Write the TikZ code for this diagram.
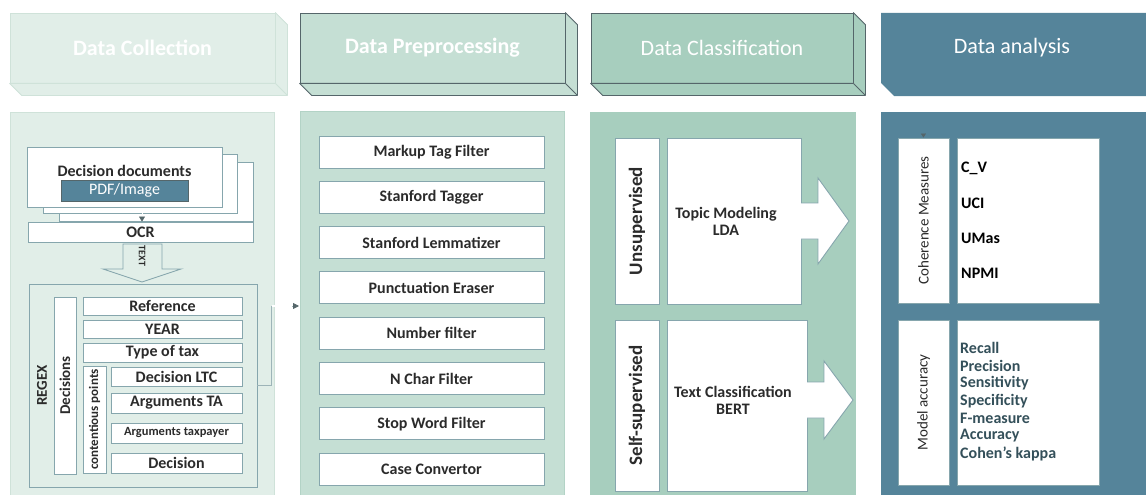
\documentclass[tikz,border=0pt]{standalone}
\usepackage{fontspec}
\setmainfont{Carlito}
\usetikzlibrary{arrows.meta,calc}
\definecolor{cA}{HTML}{E1EEE8}
\definecolor{cAb}{HTML}{CFE2D9}
\definecolor{cB}{HTML}{C5DFD4}
\definecolor{cBb}{HTML}{B3D3C6}
\definecolor{cC}{HTML}{A7CEBE}
\definecolor{cD}{HTML}{55849A}
\definecolor{edgec}{HTML}{55666A}
\definecolor{bordc}{HTML}{86A6AD}
\definecolor{connc}{HTML}{9DB4B8}
\definecolor{txtc}{HTML}{2B2B2B}
\definecolor{listc}{HTML}{34505A}
\newcommand{\myfs}[1]{\fontsize{#1}{#1}\selectfont}
\begin{document}
\begin{tikzpicture}[x=1pt,y=-1pt,
  hdr/.style={rectangle, inner sep=0pt, line width=0.8pt},
  face/.style={line width=0.8pt, line join=round},
  panel/.style={rectangle, inner sep=0pt, line width=0.8pt},
  inbox/.style={rectangle, draw=bordc, fill=white, line width=0.9pt, inner sep=0pt, text=txtc, font=\bfseries\myfs{16}},
  vlabel/.style={inbox, rotate=90},
  blockarrow/.style={draw=bordc, fill=white, line width=0.9pt, line join=miter},
  conn/.style={draw=connc, line width=0.8pt, -{Triangle[length=6pt,width=6pt,color=edgec]}},
  itemtxt/.style={anchor=west, inner sep=0pt, font=\bfseries\myfs{16}},
]
\useasboundingbox (0,0) rectangle (1146,495);

% ---------- headers ----------
\node[hdr, fill=cA, draw=cAb, minimum width=265, minimum height=70, text=white, font=\bfseries\myfs{22}] (hd1) at (142.5,48) {Data Collection};
\draw[face, fill=cA, draw=cAb] (hd1.north east) -- ++(12,12) -- ($(hd1.south east)+(12,12)$) -- ($(hd1.south west)+(12,12)$) -- (hd1.south west) -- (hd1.south east) -- cycle;
\draw[face, draw=cAb] (hd1.south east) -- ++(12,12);

\node[hdr, fill=cB, draw=edgec, minimum width=265, minimum height=70, text=white, font=\bfseries\myfs{22}] (hd2) at (432.5,48) {Data Preprocessing};
\draw[face, fill=cB, draw=edgec] (hd2.north east) -- ++(12,12) -- ($(hd2.south east)+(12,12)$) -- ($(hd2.south west)+(12,12)$) -- (hd2.south west) -- (hd2.south east) -- cycle;
\draw[face, draw=edgec] (hd2.south east) -- ++(12,12);

\node[hdr, fill=cC, draw=edgec, minimum width=262, minimum height=70, text=white, font=\myfs{22}] (hd3) at (722,48) {Data Classification};
\draw[face, fill=cC, draw=edgec] (hd3.north east) -- ++(12,12) -- ($(hd3.south east)+(12,12)$) -- ($(hd3.south west)+(12,12)$) -- (hd3.south west) -- (hd3.south east) -- cycle;
\draw[face, draw=edgec] (hd3.south east) -- ++(12,12);

\fill[cD] (881,13) -- (1146,13) -- (1146,96) -- (894,96) -- (881,83) -- cycle;
\node[text=white, font=\myfs{22}] (hd4) at (1012,48) {Data analysis};

% ---------- panels ----------
\node[panel, fill=cA, draw=cAb, minimum width=264, minimum height=383] (p1) at (142,303.5) {};
\node[panel, fill=cB, draw=cBb, minimum width=264, minimum height=384] (p2) at (432,303) {};
\node[panel, fill=cC, draw=cC, minimum width=265, minimum height=383] (p3) at (722.5,303.5) {};
\node[panel, fill=cD, draw=cD, minimum width=265, minimum height=383] (p4) at (1013.5,303.5) {};

% ---------- panel 1 : data collection ----------
\node[inbox, minimum width=194, minimum height=59] (doc3) at (156,191.5) {};
\node[inbox, minimum width=194, minimum height=59] (doc2) at (140,183.5) {};
\node[inbox, minimum width=195, minimum height=60] (doc1) at (124.5,177) {};
\node[text=txtc, font=\bfseries\myfs{16}, inner sep=0pt] (ddt) at (124.5,171) {Decision documents};
\node[rectangle, fill=cD, draw=edgec, line width=0.6pt, inner sep=0pt, minimum width=127, minimum height=21, text=white, font=\myfs{16}] (pdf) at (124.5,190.5) {PDF/Image};
\node[inbox, minimum width=225, minimum height=20] (ocr) at (140.5,232) {OCR};
\draw[draw=white, line width=0.6pt, -{Triangle[length=5pt,width=6pt,color=edgec]}] (142,208) -- (ocr.north -| 142,0);

\node[inbox, fill=cA, minimum width=228, minimum height=203] (regex) at (143,385.5) {};
\draw[blockarrow, fill=cA] (123,244) -- (162,244) -- (162,269) -- (181,269) -- (142,282) -- (103,269) -- (123,269) -- cycle;
\node[rotate=-90, text=txtc, font=\bfseries\myfs{10}, inner sep=0pt] (textlbl) at (142,256) {TEXT};
\node[rotate=90, text=txtc, font=\bfseries\myfs{15}, inner sep=0pt] (regexlbl) at (42,385.5) {REGEX};

\node[vlabel, minimum width=177, minimum height=22, font=\bfseries\myfs{15}] (dec) at (65,385.5) {Decisions};
\node[inbox, minimum width=159, minimum height=18] (ref) at (162.5,306) {Reference};
\node[inbox, minimum width=159, minimum height=18] (year) at (162.5,329) {YEAR};
\node[inbox, minimum width=159, minimum height=19] (tax) at (162.5,352.5) {Type of tax};
\node[vlabel, minimum width=107, minimum height=23, font=\bfseries\myfs{13}] (cont) at (94.5,419.5) {contentious points};
\node[inbox, minimum width=131, minimum height=19] (ltc) at (176.5,376.5) {Decision LTC};
\node[inbox, minimum width=131, minimum height=20] (ata) at (176.5,403) {Arguments TA};
\node[inbox, minimum width=131, minimum height=20, font=\bfseries\myfs{12.5}] (atp) at (176.5,433) {Arguments taxpayer};
\node[inbox, minimum width=131, minimum height=20] (decis) at (176.5,463) {Decision};

\coordinate (ppin) at (299,306);
\draw[conn] (regex.east) -- ++(14,0) |- (ppin);
\draw[draw=white, line width=1.2pt] (271.6,306) -- (292,306);

% ---------- panel 2 : preprocessing ----------
\foreach \t [count=\i from 0] in {Markup Tag Filter, Stanford Tagger, Stanford Lemmatizer, Punctuation Eraser, Number filter, N Char Filter, Stop Word Filter, Case Convertor}
  \node[inbox, minimum width=225, minimum height=32] (pp\i) at (431.5,{152+45.3*\i}) {\t};

% ---------- panel 3 : classification ----------
\node[vlabel, minimum width=166, minimum height=44, font=\bfseries\myfs{19}] (uns) at (637,221) {Unsupervised};
\node[inbox, minimum width=134, minimum height=166] (topic) at (734,221) {};
\node[text=txtc, font=\bfseries\myfs{16}, align=center, inner sep=0pt] (topict) at (726,221) {Topic Modeling\\[1pt]LDA};
\draw[blockarrow] (801,203) -- (818,203) -- (818,178) -- (849,221) -- (818,264) -- (818,239) -- (801,239);

\node[vlabel, minimum width=171, minimum height=44, font=\bfseries\myfs{19}] (self) at (637,405.5) {Self-supervised};
\node[inbox, minimum width=140, minimum height=171] (tc) at (737,405.5) {};
\node[text=txtc, font=\bfseries\myfs{16}, align=center, inner sep=0pt] (tct) at (733,400) {Text Classification\\[1pt]BERT};
\draw[blockarrow] (807,382) -- (824,382) -- (824,361) -- (853,400) -- (824,439) -- (824,418) -- (807,418);

% ---------- panel 4 : analysis ----------
\node[vlabel, minimum width=165, minimum height=51, font=\myfs{15}] (coh) at (923.5,220.5) {Coherence Measures};
\node[inbox, minimum width=142, minimum height=165] (cohl) at (1028,220.5) {};
\coordinate (cohin) at (923,116);
\draw[draw=cD, line width=0.6pt, -{Triangle[length=4pt,width=5pt,color=edgec]}] (cohin) -- (coh.east);
\node[itemtxt, text=black] (cv) at (961,168) {C\_V};
\node[itemtxt, text=black] (uci) at (961,203) {UCI};
\node[itemtxt, text=black] (umas) at (961,238) {UMas};
\node[itemtxt, text=black] (npmi) at (961,273) {NPMI};

\node[vlabel, minimum width=165, minimum height=51, font=\myfs{15}] (macc) at (923.5,402.5) {Model accuracy};
\node[inbox, minimum width=142, minimum height=165] (maccl) at (1028,402.5) {};
\foreach \t [count=\i from 0] in {Recall, Precision, Sensitivity, Specificity, F-measure, Accuracy, Cohen's kappa}
  \node[itemtxt, text=listc] (m\i) at (960,{348+17.6*\i}) {\t};
\end{tikzpicture}
\end{document}
